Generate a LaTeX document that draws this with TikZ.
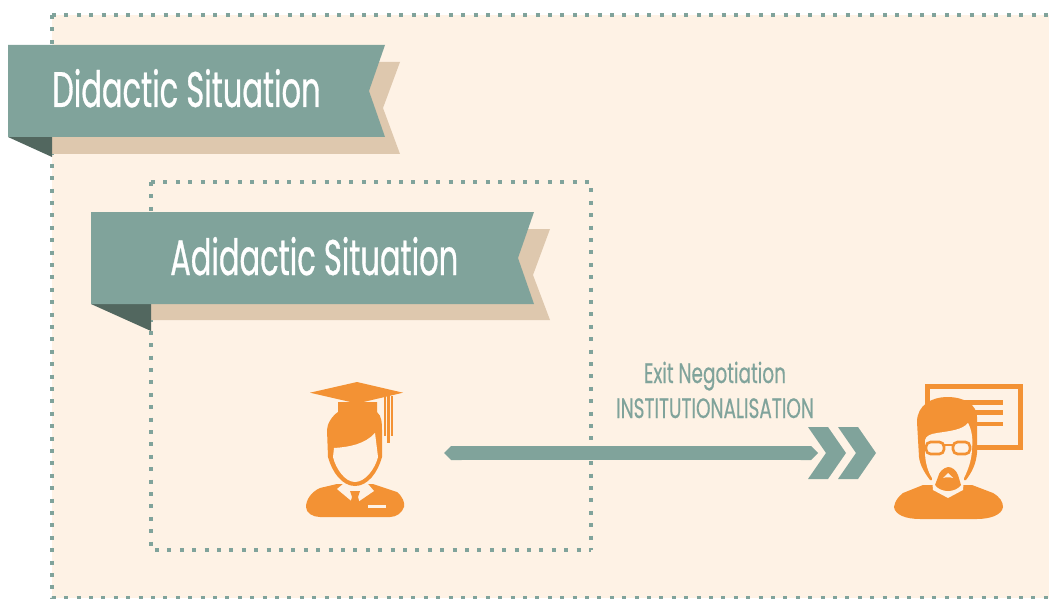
\documentclass[tikz,border=0pt]{standalone}
\usepackage{fontspec}
\usepackage{tikz}
\usetikzlibrary{arrows.meta}
\newfontfamily\bannerfont[FakeStretch=0.61,FakeBold=0.6]{Poppins}
\newfontfamily\flowfont[FakeStretch=0.66,FakeBold=0.4]{Poppins}
\definecolor{paper}{HTML}{FEF2E5}
\definecolor{teal}{HTML}{80A39B}
\definecolor{darkteal}{HTML}{52675F}
\definecolor{tan}{HTML}{DEC8AE}
\definecolor{iconorange}{HTML}{F39234}
\tikzset{
	dotline/.style={teal,line width=3pt,dash pattern=on 3pt off 6.3pt},
	bannertext/.style={white,anchor=base west,inner sep=0pt,font=\bannerfont\fontsize{37.5}{40}\selectfont},
	flowtext/.style={teal,anchor=base,inner sep=0pt,font=\flowfont\fontsize{21}{24}\selectfont},
	icon/.style={fill=iconorange},
	iconcut/.style={fill=paper},
	iconline/.style={draw=iconorange,line width=2pt},
}
\begin{document}
\begin{tikzpicture}[x=0.75pt,y=-0.75pt]
	\useasboundingbox (0,0) rectangle (1049,599);
	\fill[paper] (52,15) rectangle (1049,598);

	% dotted frames
	\draw[dotline] (52,15) -- (1049,15);
	\draw[dotline] (52,15) -- (52,598) -- (1049,598);
	\draw[dotline] (151,182) -- (591,182) -- (591,550);
	\draw[dotline] (151,182) -- (151,550) -- (591,550);

	% outer banner
	\fill[tan] (52,62) -- (400,62) -- (383,108) -- (400,154) -- (52,154) -- cycle;
	\fill[darkteal] (8,137) -- (52,137) -- (52,157) -- cycle;
	\fill[teal] (8,45) -- (385,45) -- (369,91) -- (385,137) -- (8,137) -- cycle;
	\node[bannertext] (didactic) at (52,107) {Didactic Situation};

	% inner banner
	\fill[tan] (151,229) -- (550,229) -- (533,275) -- (550,320) -- (151,320) -- cycle;
	\fill[darkteal] (91,304) -- (151,304) -- (151,331) -- cycle;
	\fill[teal] (91,212) -- (534,212) -- (518,258) -- (534,304) -- (91,304) -- cycle;
	\node[bannertext] (adidactic) at (170,275) {Adidactic Situation};

	% student
	\fill[icon] (320,488) -- (337,484) -- (373,484) -- (397,492) .. controls (403,497) and (405,503) .. (404,507)
		.. controls (402,513) and (396,517) .. (390,517) -- (320,517) .. controls (313,517) and (306,513) .. (306,507)
		.. controls (306,500) and (311,492) .. (320,488) -- cycle;
	\fill[iconcut] (337,489) -- (343,484) -- (368,484) -- (374,491) -- (355,504) -- cycle;
	\fill[icon] (350,491) -- (360,491) -- (358,497) -- (360,504) -- (355,506) -- (350,504) -- (352,497) -- cycle;
	\fill[iconcut] (368,505) rectangle (386,508);
	\fill[icon] (338,402) -- (377,402) -- (377,412) .. controls (382,416) and (382,424) .. (382,430)
		-- (382,457) .. controls (378,472) and (368,486) .. (355,486) .. controls (342,486) and (332,472) .. (328,457)
		-- (327,430) .. controls (327,424) and (332,416) .. (338,412) -- cycle;
	\fill[iconcut] (334,448) .. controls (350,447) and (365,444) .. (375,433) -- (378,457)
		.. controls (375,469) and (365,482) .. (355,482) .. controls (345,482) and (336,469) .. (333,457) -- cycle;
	\fill[icon] (310,392.7) -- (357,382) -- (403,392.7) -- (357,403.5) -- cycle;
	\fill[icon] (384,396) rectangle (386.2,436);
	\fill[icon] (387.4,396) rectangle (389.6,443);
	\fill[icon] (391,396) rectangle (393.2,436);

	% flow arrow and its labels
	\coordinate (flowstart) at (444,453);
	\coordinate (flowend) at (818,453);
	\draw[teal,line width=10.5pt,{Triangle Cap[]}-{Triangle Cap[]}] (flowstart) -- (flowend);
	\foreach \dx in {0,30} {
		\fill[teal,xshift=\dx*0.75pt] (808,427) -- (828,427) -- (846,453) -- (828,479) -- (808,479) -- (826,453) -- cycle;
	}
	\node[flowtext] (negotiation) at (715,383) {Exit Negotiation};
	\node[flowtext] (institution) at (715,418) {INSTITUTIONALISATION};

	% teacher
	\draw[draw=iconorange,line width=3.6pt] (927.5,386.5) rectangle (1020.5,447.5);
	\fill[icon] (960,400) rectangle (1003,404.5);
	\fill[icon] (960,410) rectangle (1003,414.5);
	\fill[icon] (960,421.5) rectangle (1003,426);
	\fill[icon] (923,485) -- (972,485) -- (993,493) .. controls (1000,497) and (1003,502) .. (1003,507)
		.. controls (1002,515) and (990,519) .. (977,519) -- (920,519) .. controls (906,519) and (895,515) .. (894,507)
		.. controls (895,501) and (898,497) .. (903,493) -- cycle;
	\fill[icon] (917,422) .. controls (917,405) and (932,397) .. (947,397) .. controls (965,397) and (977,405) .. (977,417)
		-- (977,453) .. controls (976,464) and (972,472) .. (966,480) -- (930,480) .. controls (924,472) and (920,465) .. (919,457) -- cycle;
	\fill[iconcut] (925,440) .. controls (926,436) and (930,434) .. (937,433) .. controls (950,431) and (962,430) .. (968,423)
		.. controls (972,430) and (973,440) .. (972,448) .. controls (972,458) and (969,468) .. (964,478)
		-- (963,490) -- (948,498) -- (933,490) -- (932,478) .. controls (928,472) and (925,462) .. (925,452) -- cycle;
	\fill[icon] (948,467) .. controls (943,468) and (939,472) .. (938,477) -- (935,485) .. controls (938,489) and (943,491) .. (948,491)
		.. controls (953,491) and (958,489) .. (961,485) -- (958,475) .. controls (956,470) and (952,467) .. (948,467) -- cycle;
	\fill[iconcut] (943,478) -- (948,473) -- (953,478) .. controls (950,477) and (946,477) .. (943,478) -- cycle;
	\draw[iconline,rounded corners=3.5pt] (926,442) rectangle (944,454);
	\draw[iconline,rounded corners=3.5pt] (953,442) rectangle (970,454);
	\draw[iconline] (944,445) -- (953,445);
\end{tikzpicture}
\end{document}
